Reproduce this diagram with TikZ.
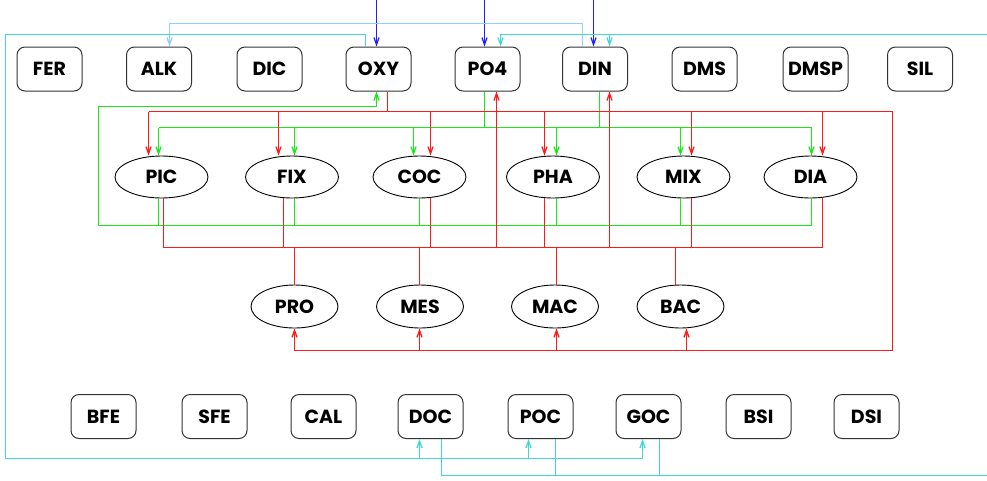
\documentclass[tikz,border=0pt]{standalone}
\usepackage{fontspec}
\setmainfont{Poppins}
\usepackage{xcolor}
\usetikzlibrary{arrows.meta,shapes.geometric}
\definecolor{cRed}{HTML}{FF1A1A}
\definecolor{cGreen}{HTML}{1AE61A}
\definecolor{cBlue}{HTML}{2020FF}
\definecolor{cSky}{HTML}{8CCFFF}
\definecolor{cCyan}{HTML}{40D9D9}

\begin{document}
\begin{tikzpicture}[x=1pt,y=-1pt,font=\bfseries\fontsize{19}{21}\selectfont,
    pool/.style={draw=black!80,rounded corners=8pt,minimum width=65pt,minimum height=44pt,line width=1pt,inner sep=0pt},
    plank/.style={draw=black,ellipse,minimum width=93pt,minimum height=42pt,line width=0.9pt,inner sep=0pt},
    zoo/.style={plank,minimum width=87pt,minimum height=43pt},
    wire/.style={line width=1.3pt},
    tip/.style={wire,-{Straight Barb[length=7pt,width=5pt]}}]
  \useasboundingbox (0,0) rectangle (987,480);
  % pools in the water column and the sediment
  \foreach \n/\x in {FER/49.5,ALK/159,DIC/269.5,OXY/378.5,PO4/487.5,DIN/595,DMS/704.5,DMSP/815.5,SIL/920}
    \node[pool] (\n) at (\x,69) {\n};
  \foreach \n/\x in {BFE/103.5,SFE/214.5,CAL/323.5,DOC/430.5,POC/540.5,GOC/648.5,BSI/758.5,DSI/866.5}
    \node[pool] (\n) at (\x,416.5) {\n};
  % plankton
  \foreach \n/\x in {PIC/161.5,FIX/292,COC/419.5,PHA/553,MIX/683.5,DIA/810.5}
    \node[plank] (\n) at (\x,177) {\n};
  \foreach \n/\x in {PRO/294.5,MES/420,MAC/555,BAC/680.5}
    \node[zoo] (\n) at (\x,306.5) {\n};
  % levels of the buses
  \coordinate (skylevel) at (0,23.5);
  \coordinate (gwest) at (98.5,225.5);
  \coordinate (goxy) at (98.5,106.5);
  \coordinate (gnut) at (0,127.5);
  \coordinate (reast) at (892.5,111.5);
  \coordinate (rsouth) at (892.5,350.5);
  \coordinate (rgraze) at (0,247.5);
  \coordinate (westline) at (5.5,458.5);
  \coordinate (eastlow) at (987,475.5);
  \coordinate (easthigh) at (987,34.5);
  % external inputs
  \foreach \n/\s in {OXY/-2,PO4/-3,DIN/-1.5}
    \draw[tip,color=cBlue] ([xshift=\s pt]\n.north) ++(0,-47) coordinate (in\n) -- ([xshift=\s pt]\n.north);
  \draw[tip,color=cSky] ([xshift=-12.5pt]DIN.north) |- ([xshift=10.5pt]ALK.north |- skylevel) -- ([xshift=10.5pt]ALK.north);
  % dissolved and particulate carbon
  \draw[tip,color=cCyan] ([xshift=-13pt]OXY.north) |- (westline |- easthigh) -- (westline) -| ([xshift=-6pt]GOC.south);
  \foreach \n/\s in {DOC/-11,POC/-12}
    \draw[tip,color=cCyan] ([xshift=\s pt]\n.south |- westline) -- ([xshift=\s pt]\n.south);
  \draw[wire,color=cCyan] ([xshift=11pt]DOC.south) |- (eastlow);
  \foreach \n/\s in {POC/15,GOC/11}
    \draw[wire,color=cCyan] ([xshift=\s pt]\n.south) -- ([xshift=\s pt]\n.south |- eastlow);
  \draw[tip,color=cCyan] (easthigh) -| ([xshift=13pt]PO4.north);
  \draw[tip,color=cCyan] ([xshift=14.5pt]DIN.north |- easthigh) -- ([xshift=14.5pt]DIN.north);
  % oxygen production
  \draw[tip,color=cGreen] ([xshift=1pt]DIA.south) |- (gwest) -- (goxy) -| ([xshift=-2pt]OXY.south);
  \foreach \n/\s in {PIC/-3,FIX/2.5,COC/0,PHA/3.5,MIX/-3}
    \draw[wire,color=cGreen] ([xshift=\s pt]\n.south) -- ([xshift=\s pt]\n.south |- gwest);
  % nutrient uptake
  \draw[wire,color=cGreen] ([xshift=-3pt]PIC.north |- gnut) -- ([xshift=1pt]DIA.north |- gnut);
  \foreach \n/\s in {PO4/-3,DIN/4.5}
    \draw[wire,color=cGreen] ([xshift=\s pt]\n.south) -- ([xshift=\s pt]\n.south |- gnut);
  \foreach \n/\s in {PIC/-3,FIX/2.5,COC/-6,PHA/3.5,MIX/-3,DIA/1}
    \draw[tip,color=cGreen] ([xshift=\s pt]\n.north |- gnut) -- ([xshift=\s pt]\n.north);
  % respiration
  \draw[wire,color=cRed] ([xshift=9pt]OXY.south) -- ([xshift=9pt]OXY.south |- reast);
  \draw[wire,color=cRed] ([xshift=-13pt]PIC.north |- reast) -- (reast) -- (rsouth) -- (PRO.south |- rsouth);
  \foreach \n/\s in {PIC/-13,FIX/-13.5,COC/11,PHA/-8.5,MIX/8,DIA/12}
    \draw[tip,color=cRed] ([xshift=\s pt]\n.north |- reast) -- ([xshift=\s pt]\n.north);
  \foreach \n/\s in {PRO/0,MES/-0.5,MAC/1.5,BAC/6}
    \draw[tip,color=cRed] ([xshift=\s pt]\n.south |- rsouth) -- ([xshift=\s pt]\n.south);
  % grazing and remineralisation
  \foreach \n/\s in {PIC/2,FIX/-8.5,COC/11,PHA/-8.5,MIX/8,DIA/12}
    \draw[wire,color=cRed] ([xshift=\s pt]\n.south) -- ([xshift=\s pt]\n.south |- rgraze);
  \draw[wire,color=cRed] ([xshift=2pt]PIC.south |- rgraze) -- ([xshift=12pt]DIA.south |- rgraze);
  \foreach \n/\s in {PO4/9,DIN/14.5}
    \draw[tip,color=cRed] ([xshift=\s pt]\n.south |- rgraze) -- ([xshift=\s pt]\n.south);
  \foreach \n/\s in {PRO/0,MES/-0.5,MAC/1.5,BAC/-5}
    \draw[wire,color=cRed] ([xshift=\s pt]\n.north |- rgraze) -- ([xshift=\s pt]\n.north);
\end{tikzpicture}
\end{document}
